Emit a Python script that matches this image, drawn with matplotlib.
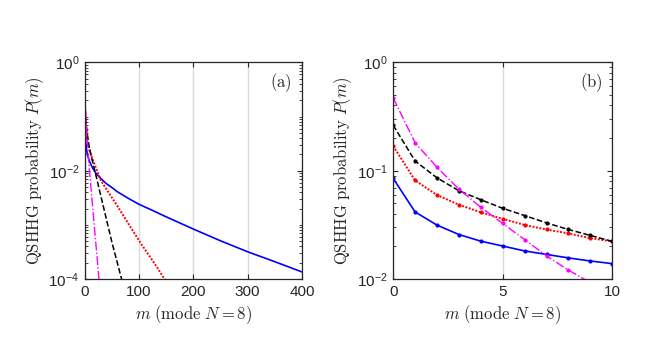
import numpy as np
import matplotlib
matplotlib.use('Agg')
import matplotlib.pyplot as plt
from matplotlib.ticker import LogLocator, FixedLocator, NullFormatter

plt.rcParams['font.family'] = ['Liberation Sans', 'DejaVu Sans']
plt.rcParams['mathtext.fontset'] = 'cm'

# panel (b): m = 0..10
m_b = np.arange(0, 11)
p_blue_b = [0.085, 0.0417, 0.0315, 0.0258, 0.0224, 0.0202, 0.0182, 0.0169, 0.0157, 0.0147, 0.0139]
p_red_b = [0.169, 0.0813, 0.0597, 0.0486, 0.0414, 0.036, 0.0316, 0.0287, 0.0264, 0.0239, 0.0223]
p_black_b = [0.263, 0.123, 0.086, 0.0654, 0.054, 0.045, 0.0386, 0.033, 0.0287, 0.0253, 0.0223]
p_mag_b = [0.471, 0.181, 0.1077, 0.0677, 0.046, 0.0326, 0.0232, 0.0164, 0.0121, 0.0093, 0.0071]

# panel (a): same start, then points
m_blue_a = [0, 1, 2, 3, 4, 5, 6, 7, 8, 9, 10, 15, 20, 30, 40, 50, 60, 80, 100,
            120, 150, 200, 250, 300, 350, 400]
p_blue_a = [0.085, 0.0417, 0.0315, 0.0258, 0.0224, 0.0202, 0.0182, 0.0169, 0.0157,
            0.0147, 0.0139, 0.011, 0.0091, 0.0071, 0.00575, 0.0049, 0.0041, 0.0031,
            0.0024, 0.00195, 0.00141, 8.4e-4, 5.1e-4, 3.2e-4, 2.1e-4, 1.36e-4]
m_red_a = [0, 1, 2, 3, 4, 5, 6, 8, 10, 15, 20, 30, 45, 60, 75, 90, 105, 120, 135, 147, 160]
p_red_a = [0.169, 0.0813, 0.0597, 0.0486, 0.0414, 0.036, 0.0316, 0.0264, 0.0223,
           0.0158, 0.0117, 0.0065, 0.0038, 0.00224, 0.00129, 7.4e-4, 4.3e-4, 2.6e-4,
           1.55e-4, 1.0e-4, 6.3e-5]
m_black_a = [0, 1, 2, 3, 4, 5, 6, 8, 10, 20, 30, 40, 50, 60, 70]
p_black_a = [0.263, 0.123, 0.086, 0.0654, 0.054, 0.045, 0.0386, 0.0287, 0.0223,
             0.0087, 0.0033, 0.00126, 4.8e-4, 2.0e-4, 8.3e-5]
m_mag_a = [0, 1, 2, 3, 4, 5, 6, 7, 8, 10, 15, 20, 26, 28]
p_mag_a = [0.471, 0.181, 0.1077, 0.0677, 0.046, 0.0326, 0.0232, 0.0164, 0.0121,
           0.0071, 1.9e-3, 5.1e-4, 1.05e-4, 6.3e-5]

BLUE, RED, MAG = '#0000ff', '#ff0000', '#ff00ff'
SPINE = '#262626'

fig = plt.figure(figsize=(6.52, 3.52), dpi=100)
ax1 = fig.add_axes([0.130, 0.207, 0.333, 0.616])
ax2 = fig.add_axes([0.603, 0.207, 0.336, 0.616])


def style_axes(ax, ymin, ymax, yticks, xticks, label):
    ax.set_yscale('log')
    ax.set_ylim(ymin, ymax)
    ax.yaxis.set_major_locator(FixedLocator(yticks))
    ax.yaxis.set_minor_locator(LogLocator(base=10, subs=np.arange(1, 10) * 1.0, numticks=20))
    ax.yaxis.set_minor_formatter(NullFormatter())
    ax.set_xticks(xticks)
    ax.grid(True, axis='x', color='#dadada', linewidth=1.0)
    ax.set_axisbelow(True)
    ax.tick_params(which='both', direction='in', top=True, right=True,
                   color=SPINE, labelsize=11, labelcolor=SPINE, pad=4)
    ax.tick_params(which='major', length=3.5)
    ax.tick_params(which='minor', length=2)
    for s in ax.spines.values():
        s.set_color(SPINE)
        s.set_linewidth(0.9)
    ax.set_xlabel(r'$m\ \mathrm{(mode}\ N=8\mathrm{)}$', fontsize=12, color=SPINE, labelpad=3)
    ax.set_ylabel(r'$\mathrm{QSHHG\ probability}\ P(m)$', fontsize=12, color=SPINE, labelpad=2)
    ax.text(0.905, 0.905, label, transform=ax.transAxes, fontsize=12,
            ha='center', va='center', color=SPINE)


# panel (a)
ax1.plot(m_blue_a, p_blue_a, '-', color=BLUE, lw=1.2)
ax1.plot(m_red_a, p_red_a, linestyle=(0, (1, 0.8)), color=RED, lw=1.4)
ax1.plot(m_black_a, p_black_a, '--', color='k', lw=1.1)
ax1.plot(m_mag_a, p_mag_a, '-.', color=MAG, lw=1.0)
ax1.set_xlim(0, 400)
style_axes(ax1, 1e-4, 1e0, [1e-4, 1e-2, 1e0], [0, 100, 200, 300, 400], r'$\mathrm{(a)}$')

# panel (b)
ax2.plot(m_b, p_blue_b, '-', color=BLUE, lw=1.2, marker='.', ms=4)
ax2.plot(m_b, p_red_b, linestyle=(0, (1, 0.8)), color=RED, lw=1.4, marker='.', ms=4)
ax2.plot(m_b, p_black_b, '--', color='k', lw=1.1, marker='.', ms=4)
ax2.plot(m_b, p_mag_b, '-.', color=MAG, lw=1.0, marker='.', ms=4)
ax2.set_xlim(0, 10)
style_axes(ax2, 1e-2, 1e0, [1e-2, 1e-1, 1e0], [0, 5, 10], r'$\mathrm{(b)}$')

fig.savefig('out.png', dpi=100)
